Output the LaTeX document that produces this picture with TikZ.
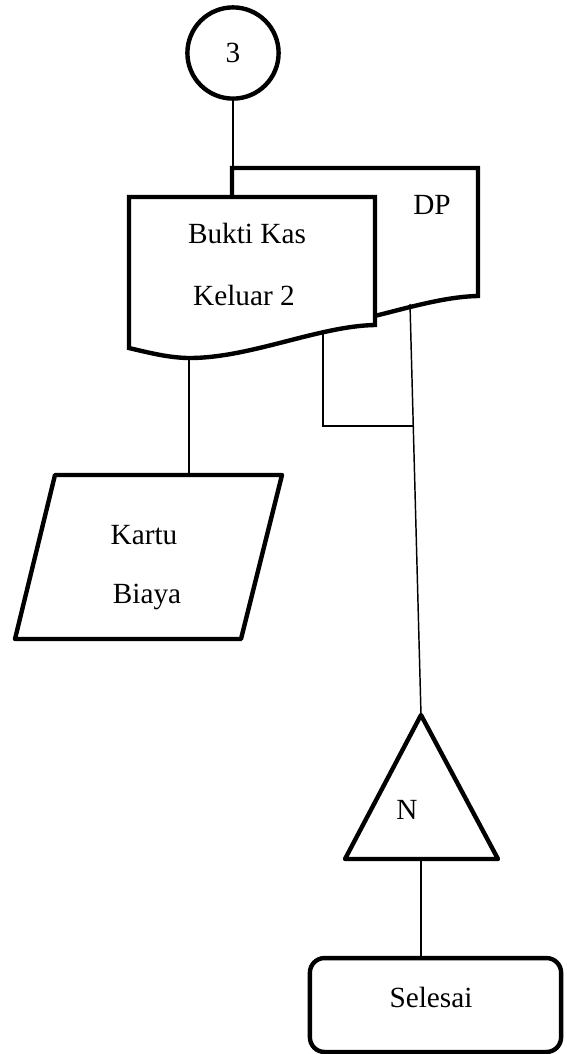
\documentclass[tikz,border=0pt]{standalone}
\usepackage{fontspec}
\setmainfont{Liberation Serif}
\usetikzlibrary{positioning, calc}

\tikzset{
    bordo/.style={line width=1.8pt},
    linea/.style={line width=0.6pt},
    testo/.style={font=\fontsize{12}{14}\selectfont, inner sep=0pt},
    documento/.pic={
        \draw[bordo, fill=white] (0,0) -- (246,0) -- (246,128)
            .. controls (190,129) and (121,161) .. (61,161)
            .. controls (41,161) and (21,156) .. (0,151) -- cycle;
    }
}

\begin{document}
\begin{tikzpicture}[x=0.41pt, y=-0.41pt]
    \useasboundingbox (0,0) rectangle (566,1054);
    %connettore
    \node[circle, draw, bordo, minimum size=37.4pt, testo] (conn) at (233,53) {3};
    %documento DP
    \coordinate (dptop) at (233,168);
    \pic at (232,168) {documento};
    \node[testo] (dp) at (432,205) {DP};
    %documento bukti kas keluar
    \pic at (129,197) {documento};
    \node[testo] (bukti) at (247,233) {Bukti Kas};
    \node[testo] (keluar) at (244,295) {Keluar 2};
    %punti di uscita
    \coordinate (bkout) at (189,357);
    \coordinate (bkout2) at (323,332);
    \coordinate (dpout) at (410,304);
    %kartu biaya
    \coordinate (kbtop) at (189,475);
    \draw[bordo, line join=round] (55,475) -- (282,475) -- (241,639) -- (15,639) -- cycle;
    \node[testo] (kartu) at (144,535) {Kartu};
    \node[testo] (biaya) at (147,597) {Biaya};
    %arsip
    \coordinate (arsip) at (421,715);
    \coordinate (arsipbase) at (421,859);
    \draw[bordo, line join=round] (arsip) -- (498,859) -- (345,859) -- cycle;
    \node[testo] (n) at (407,810) {N};
    %terminatore
    \node[draw, bordo, rounded corners=6pt, minimum width=103pt, minimum height=38.5pt] (selesai) at (435.5,1005) {};
    \node[testo] (fine) at (431,997) {Selesai};
    %collegamenti
    \coordinate (giunto) at ($(dpout)!0.297!(arsip)$);
    \draw[linea] (conn.south) -- (conn.south |- dptop);
    \draw[linea] (bkout) -- (kbtop);
    \draw[linea] (bkout2) |- (giunto);
    \draw[linea] (dpout) -- (arsip);
    \draw[linea] (arsipbase) -- (arsipbase |- selesai.north);
\end{tikzpicture}
\end{document}
